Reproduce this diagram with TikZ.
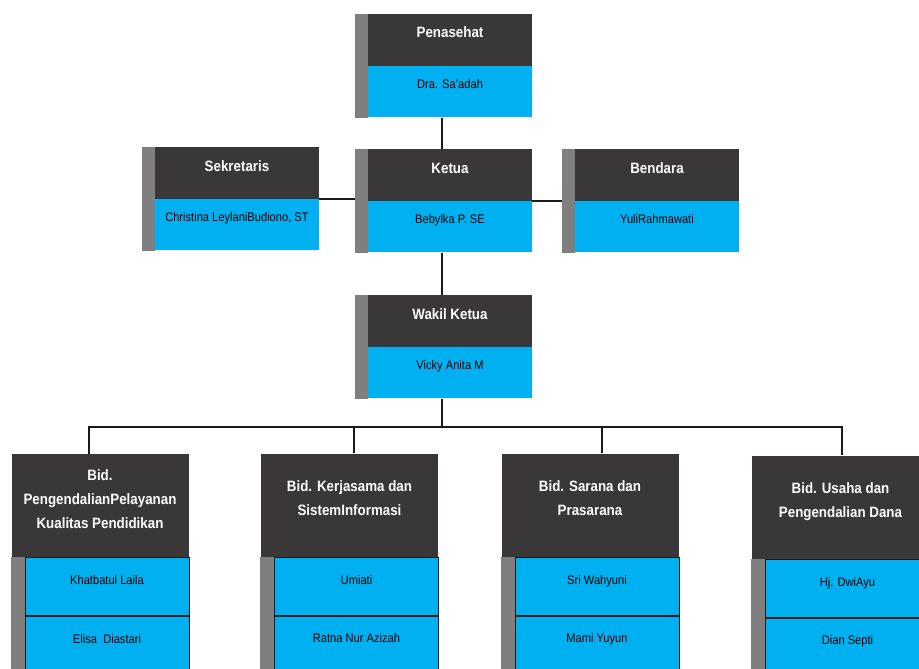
\documentclass[tikz,border=0pt]{standalone}
\usepackage{fontspec}
\setmainfont{Liberation Sans}[FakeStretch=0.89]
\usetikzlibrary{positioning, backgrounds}

\definecolor{headdark}{HTML}{3A3738}
\definecolor{cellblue}{HTML}{00B0F0}
\definecolor{stripgray}{HTML}{7F7F7F}
\definecolor{linedark}{HTML}{1A1A1A}

\tikzset{
    head/.style={fill=headdark, text=white, font=\bfseries\fontsize{15}{24}\selectfont,
        inner sep=0pt, align=center, minimum width=164pt, text height=24pt, text depth=28pt},
    cell/.style={fill=cellblue, text=black, font=\fontsize{12.5}{14}\selectfont,
        inner sep=0pt, minimum width=164pt, text height=22pt, text depth=29pt},
    bighead/.style={head, minimum width=177pt, minimum height=103pt, text height=, text depth=13pt},
    rowcell/.style={cell, draw=linedark, line width=0.8pt, text height=27pt, text depth=31pt},
    strip/.style={fill=stripgray},
    conn/.style={draw=linedark, line width=2.2pt},
}

\begin{document}
\begin{tikzpicture}[x=1pt, y=-1pt, node distance=0pt]
    \useasboundingbox (0,0) rectangle (919,669);
    \clip (0,0) rectangle (919,669);

    % pengurus inti
    \node[head] (penh) at (450,40) {Penasehat};
    \node[cell, below=of penh] (penb) {Dra. Sa'adah};
    \fill[strip] ([xshift=-13pt]penh.north west) rectangle (penb.south west);

    \node[head] (keth) at (450,175) {Ketua};
    \node[cell, below=of keth] (ketb) {Bebylka P. SE};
    \fill[strip] ([xshift=-13pt]keth.north west) rectangle (ketb.south west);

    \node[head] (sekh) at (237,173) {Sekretaris};
    \node[cell, below=of sekh] (sekb) {Christina LeylaniBudiono, ST};
    \fill[strip] ([xshift=-13pt]sekh.north west) rectangle (sekb.south west);

    \node[head] (benh) at (657,175) {Bendara};
    \node[cell, below=of benh] (benb) {YuliRahmawati};
    \fill[strip] ([xshift=-13pt]benh.north west) rectangle (benb.south west);

    \node[head] (wakh) at (450,321) {Wakil Ketua};
    \node[cell, below=of wakh] (wakb) {Vicky Anita M};
    \fill[strip] ([xshift=-13pt]wakh.north west) rectangle (wakb.south west);

    % bidang-bidang
    \node[bighead] (bidah) at (100,505.5) {Bid.\\PengendalianPelayanan\\Kualitas Pendidikan};
    \node[rowcell, below=of bidah, xshift=7pt] (bida1) {Khatbatul Laila};
    \node[rowcell, below=of bida1] (bida2) {Elisa~~Diastari};
    \fill[strip] ([xshift=-14pt]bida1.north west) rectangle (bida2.south west);

    \node[bighead] (bidbh) at (349.5,505) {Bid. Kerjasama dan\\SistemInformasi};
    \node[rowcell, below=of bidbh, xshift=7pt] (bidb1) {Umiati};
    \node[rowcell, below=of bidb1] (bidb2) {Ratna Nur Azizah};
    \fill[strip] ([xshift=-14pt]bidb1.north west) rectangle (bidb2.south west);

    \node[bighead] (bidch) at (590,505) {Bid. Sarana dan\\Prasarana};
    \node[rowcell, below=of bidch, xshift=7pt] (bidc1) {Sri Wahyuni};
    \node[rowcell, below=of bidc1] (bidc2) {Mami Yuyun};
    \fill[strip] ([xshift=-14pt]bidc1.north west) rectangle (bidc2.south west);

    \node[bighead] (biddh) at (840.5,507) {Bid. Usaha dan\\Pengendalian Dana};
    \node[rowcell, below=of biddh, xshift=7pt] (bidd1) {Hj. DwiAyu};
    \node[rowcell, below=of bidd1] (bidd2) {Dian Septi};
    \fill[strip] ([xshift=-14pt]bidd1.north west) rectangle (bidd2.south west);

    % garis
    \coordinate (bus) at (442,427);
    \coordinate (dropa) at (89,427);
    \coordinate (dropb) at (354,427);
    \coordinate (dropc) at (602,427);
    \coordinate (dropd) at (842,427);
    \begin{scope}[on background layer]
        \draw[conn] (penb.south -| bus) -- (keth.north -| bus);
        \draw[conn] (ketb.south -| bus) -- (wakh.north -| bus);
        \draw[conn] (sekb.north east) -- (sekb.north east -| keth.west);
        \draw[conn] (ketb.north east) -- (ketb.north east -| benh.west);
        \draw[conn] (wakb.south -| bus) -- (bus);
        \draw[conn] (dropa |- bidah.north) -- (dropa) -- (dropd) -- (dropd |- biddh.north);
        \draw[conn] (dropb) -- (dropb |- bidbh.north);
        \draw[conn] (dropc) -- (dropc |- bidch.north);
    \end{scope}
\end{tikzpicture}
\end{document}
